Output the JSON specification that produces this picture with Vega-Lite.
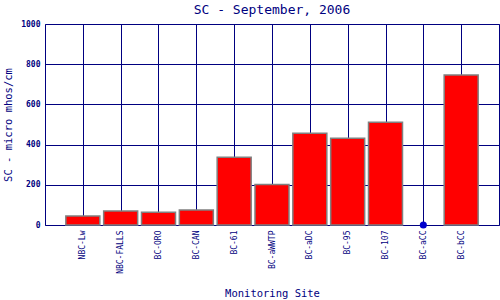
{
  "$schema": "https://vega.github.io/schema/vega-lite/v6.json",
  "autosize": {"type": "none"},
  "width": 454,
  "height": 201,
  "padding": {"left": 45, "top": 24, "right": 1, "bottom": 75},
  "background": "white",
  "title": {"text": "SC - September, 2006", "font": "DejaVu Sans Mono", "fontSize": 13, "fontWeight": "normal", "color": "#000080", "offset": 3},
  "data": {"values": [
    {"site": "NBC-Lw", "sc": 45, "missing": 0},
    {"site": "NBC-FALLS", "sc": 70, "missing": 0},
    {"site": "BC-ORO", "sc": 63, "missing": 0},
    {"site": "BC-CAN", "sc": 75, "missing": 0},
    {"site": "BC-61", "sc": 337, "missing": 0},
    {"site": "BC-aWWTP", "sc": 202, "missing": 0},
    {"site": "BC-aDC", "sc": 456, "missing": 0},
    {"site": "BC-95", "sc": 431, "missing": 0},
    {"site": "BC-107", "sc": 511, "missing": 0},
    {"site": "BC-aCC", "sc": null, "missing": 1},
    {"site": "BC-bCC", "sc": 746, "missing": 0}
  ]},
  "config": {
    "view": {"stroke": "#000080", "strokeWidth": 1},
    "axis": {"gridColor": "#000080", "gridOpacity": 1, "gridWidth": 1, "domainColor": "#000080", "labelColor": "#000080", "titleColor": "#000080", "ticks": false, "titleFont": "DejaVu Sans Mono", "titleFontWeight": "normal", "titleFontSize": 10.5, "labelFont": "DejaVu Sans Mono"}
  },
  "encoding": {
    "x": {"field": "site", "type": "nominal",
      "sort": ["NBC-Lw", "NBC-FALLS", "BC-ORO", "BC-CAN", "BC-61", "BC-aWWTP", "BC-aDC", "BC-95", "BC-107", "BC-aCC", "BC-bCC"],
      "scale": {"type": "point", "padding": 1},
      "axis": {"title": "Monitoring Site", "labelAngle": -90, "labelAlign": "right", "labelBaseline": "middle", "labelFontSize": 8, "labelPadding": 5, "grid": true, "titleY": 68, "titleBaseline": "middle", "domain": false}}
  },
  "layer": [
    {
      "mark": {"type": "bar", "width": 34, "color": "#FF0000", "stroke": "#808080", "strokeWidth": 1.5},
      "encoding": {
        "y": {"field": "sc", "type": "quantitative", "scale": {"domain": [0, 1000]},
          "axis": {"title": "SC - micro mhos/cm", "values": [0, 200, 400, 600, 800, 1000], "format": "d", "labelFontSize": 8, "labelFontWeight": "bold", "labelPadding": 5, "titleX": -32, "domain": false}}
      }
    },
    {
      "transform": [{"filter": "datum.missing == 1"}],
      "mark": {"type": "point", "filled": true, "color": "#0000CC", "size": 50, "opacity": 1},
      "encoding": {"y": {"datum": 0, "type": "quantitative"}}
    }
  ]
}
